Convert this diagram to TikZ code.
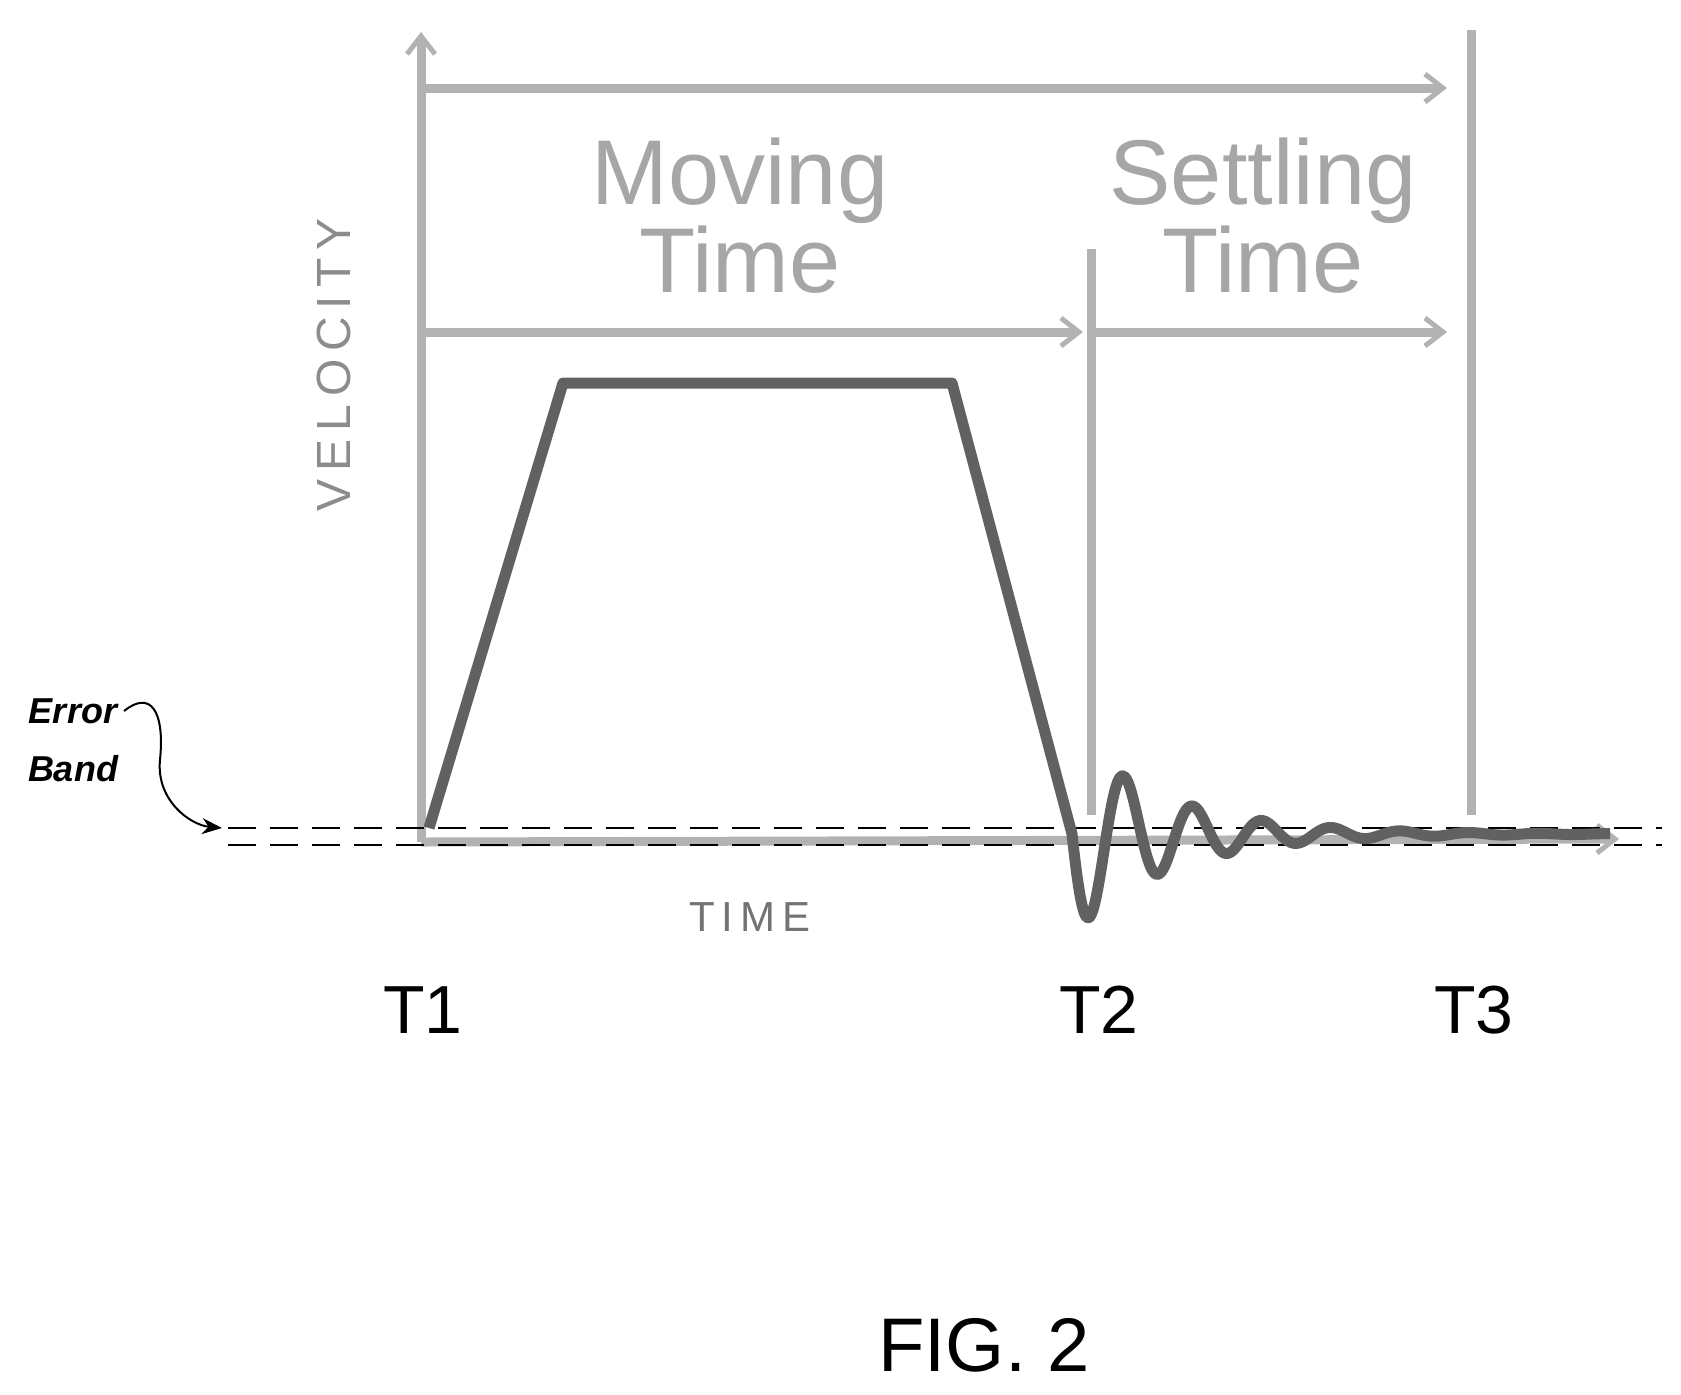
\documentclass[tikz,border=0pt]{standalone}
\usepackage{fontspec}
\setmainfont{Liberation Sans}
\usetikzlibrary{arrows.meta}
\begin{document}
\begin{tikzpicture}[x=0.5pt,y=-0.5pt,
  gline/.style={draw=black!30,line width=4.5pt},
  garrow/.style={gline,-{Straight Barb[length=9pt,width=14pt,line width=2.5pt]}},
  curve/.style={draw=black!62,line width=5.5pt,line join=round},
  band/.style={draw=black,line width=1.2pt,dash pattern=on 14pt off 7pt},
  big/.style={text=black!35,font=\fontsize{46}{50}\selectfont,align=center},
  lab/.style={font=\fontsize{34}{36}\selectfont}]
\useasboundingbox (0,0) rectangle (1681,1394);
% coordinates
\coordinate (yb) at (421,842); \coordinate (yt) at (421,32);
\coordinate (xe) at (1619,839);
\coordinate (t2b) at (1091,815); \coordinate (t2t) at (1091,249);
\coordinate (t3b) at (1471,815); \coordinate (t3t) at (1471,30);
\coordinate (a1s) at (421,88); \coordinate (a1e) at (1447,88);
\coordinate (a2s) at (421,332); \coordinate (a2e) at (1083,332);
\coordinate (a3s) at (1091,332); \coordinate (a3e) at (1447,332);
% axes and markers
\draw[garrow] (yb) -- (yt);
\draw[garrow] (yb) -- (xe);
\draw[gline] (t2b) -- (t2t);
\draw[gline] (t3b) -- (t3t);
\draw[garrow] (a1s) -- (a1e);
\draw[garrow] (a2s) -- (a2e);
\draw[garrow] (a3s) -- (a3e);
% error band
\coordinate (b1s) at (228,828); \coordinate (b1e) at (1662,828);
\coordinate (b2s) at (228,845); \coordinate (b2e) at (1662,845);
\draw[band] (b1s) -- (b1e);
\draw[band] (b2s) -- (b2e);
% velocity profile
\draw[curve] (429,828) -- (563,383) -- (952,383) -- (1072,834)
  -- plot[domain=0:538,samples=260,smooth,variable=\t] ({1072+\t},{834+100*exp(-\t/95)*sin(5.2*\t)});
% texts
\node[big] (mv) at (740,216) {Moving\\[-6pt]Time};
\node[big] (st) at (1263,216) {Settling\\[-6pt]Time};
\node[rotate=90,text=black!45,font=\fontsize{24}{26}\selectfont] (vel) at (334,365) {V\,E\,L\,O\,C\,I\,T\,Y};
\node[text=black!55,font=\fontsize{21}{24}\selectfont] (tm) at (750,917) {T\,I\,M\,E};
\node[lab] (T1) at (423,1010) {T1};
\node[lab] (T2) at (1099,1010) {T2};
\node[lab] (T3) at (1474,1010) {T3};
\node[font=\fontsize{38}{40}\selectfont] (fig) at (984,1345) {FIG. 2};
\node[font=\bfseries\itshape\fontsize{18}{20}\selectfont] (eb1) at (73,711) {Error};
\node[font=\bfseries\itshape\fontsize{18}{20}\selectfont] (eb2) at (73,769) {Band};
\coordinate (tip) at (222,828);
\draw[line width=1pt,-{Stealth[length=10pt,width=8pt]}] (eb1.east) .. controls (150,690) and (165,710) .. (160,760) .. controls (156,800) and (190,825) .. (tip);
\end{tikzpicture}
\end{document}
